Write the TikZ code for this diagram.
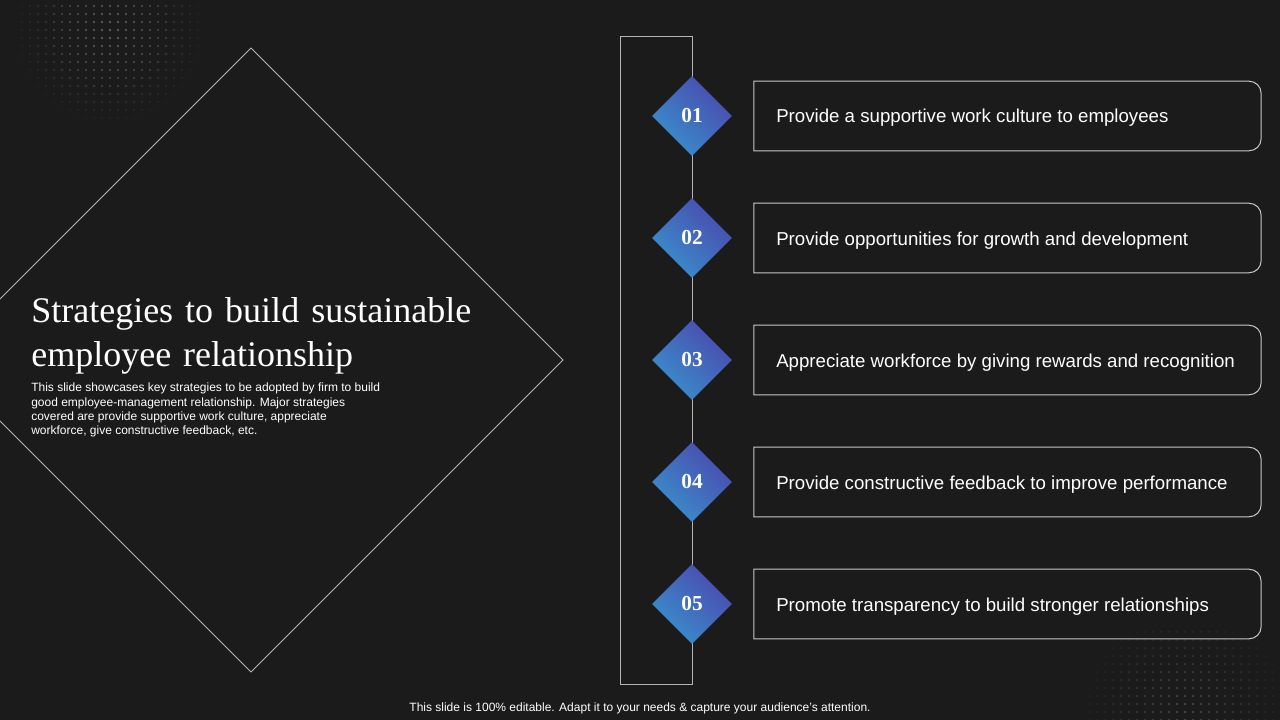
\documentclass[tikz,border=0pt]{standalone}
\usepackage{fontspec}
\setmainfont{Liberation Sans}
\newfontfamily\titlefont{Liberation Serif}
\usetikzlibrary{shapes.geometric}
\definecolor{slidebg}{HTML}{1B1B1C}
\definecolor{framegray}{HTML}{B4B4B4}
\definecolor{boxgray}{HTML}{C8C8C8}
\definecolor{tipblue}{HTML}{3A8FCC}
\definecolor{tipindigo}{HTML}{4A4AAE}
\newcommand\widespaces{\spaceskip=9pt plus 2pt\relax}
\begin{document}
\begin{tikzpicture}[x=0.75pt, y=-0.75pt,
    frameline/.style={draw=framegray, line width=0.6pt},
    boxline/.style={draw=boxgray, line width=0.75pt},
    numdiamond/.style={diamond, aspect=1, minimum width=60pt, minimum height=60pt,
        inner sep=0pt, bottom color=tipblue, top color=tipindigo, shading angle=-45,
        text=white, font=\titlefont\bfseries\fontsize{16}{18}\selectfont},
    stepbox/.style={rectangle, minimum width=380pt, minimum height=51.75pt, inner sep=0pt},
    steptext/.style={anchor=base west, text=white, inner sep=0pt, font=\fontsize{14}{16}\selectfont}]

    % Background
    \fill[slidebg] (0,0) rectangle (1280,720);
    \useasboundingbox (0,0) rectangle (1280,720);
    \clip (0,0) rectangle (1280,720);

    % Halftone dots
    \foreach \i in {-12,...,12}{
        \foreach \j in {-5,...,12}{
            \pgfmathsetmacro\dotpct{max(0,30*(1-sqrt(\i*\i+\j*\j)/12.5))}
            \fill[white!\dotpct!slidebg] ({110+8*\i},{30+8*\j}) circle (1.1pt);
        }
    }
    \foreach \i in {-14,...,12}{
        \foreach \j in {-10,...,3}{
            \pgfmathsetmacro\dotpct{max(0,20*(1-sqrt(\i*\i+\j*\j)/13.5))}
            \fill[white!\dotpct!slidebg] ({1185+8*\i},{712+8*\j}) circle (1pt);
        }
    }

    % Big outlined diamond
    \draw[frameline] (251,48) -- (563,360) -- (251,672) -- (-61,360) -- cycle;

    % Title and description
    \node[anchor=north west, inner sep=0pt, align=left, text=white,
        font=\titlefont\fontsize{27}{33}\selectfont\widespaces] (title) at (31,297)
        {Strategies to build sustainable\\employee relationship};
    \node[anchor=north west, inner sep=0pt, align=left, text=white,
        font=\fontsize{9}{10.75}\selectfont] (desc) at (31,383)
        {This slide showcases key strategies to be adopted by firm to build\\
         good employee-management relationship. Major strategies\\
         covered are provide supportive work culture, appreciate\\
         workforce, give constructive feedback, etc.};

    % Timeline frame
    \draw[frameline] (620,36) rectangle (692,684);

    % Steps
    \foreach \n/\y/\txt in {
        01/116/{Provide a supportive work culture to employees},
        02/238/{Provide opportunities for growth and development},
        03/360/{Appreciate workforce by giving rewards and recognition},
        04/482/{Provide constructive feedback to improve performance},
        05/604/{Promote transparency to build stronger relationships}}{
        \node[numdiamond] (num\n) at (692,\y) {\n};
        \node[stepbox] (box\n) at (1007.5,\y) {};
        \draw[boxline] (box\n.north west) -- ([xshift=-9pt]box\n.north east)
            arc[start angle=90, end angle=0, radius=9pt]
            -- ([yshift=9pt]box\n.south east)
            arc[start angle=0, end angle=-90, radius=9pt]
            -- (box\n.south west) -- cycle;
        \node[steptext] (text\n) at (776,\y+7) {\txt};
    }

    % Footer
    \node[text=white, inner sep=0pt, font=\fontsize{9}{10}\selectfont] (footer) at (640,708)
        {This slide is 100\% editable. Adapt it to your needs \& capture your audience’s attention.};
\end{tikzpicture}
\end{document}
